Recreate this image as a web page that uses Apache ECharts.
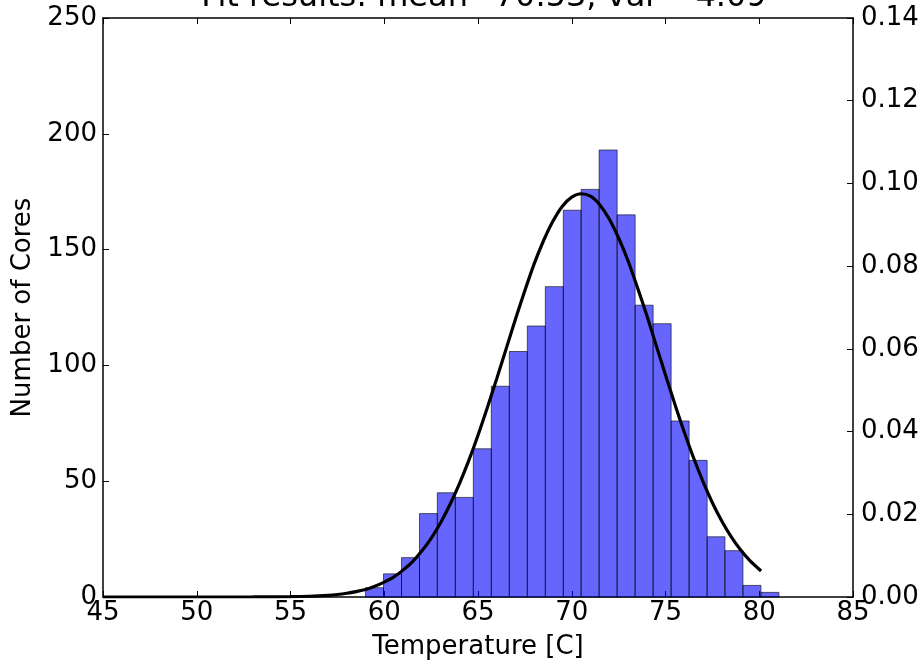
<!DOCTYPE html>
<html>
<head>
<meta charset="utf-8">
<style>
  html, body { margin: 0; padding: 0; background: #fff; }
  #main { width: 923px; height: 665px; }
</style>
<script src="https://cdn.jsdelivr.net/npm/echarts@6/dist/echarts.min.js"></script>
</head>
<body>
<div id="main"></div>
<script>
// histogram bins (edges) and counts
var binEdges = [59.00, 59.96, 60.92, 61.88, 62.83, 63.79, 64.75, 65.71, 66.67, 67.63, 68.59, 69.55,
    70.50, 71.46, 72.42, 73.38, 74.34, 75.30, 76.26, 77.22, 78.17, 79.13, 80.09, 81.05];
var counts = [4, 10, 17, 36, 45, 43, 64, 91, 106, 117, 134, 167, 176, 193, 165, 126, 118, 76, 59, 26, 20, 5, 2];

// fitted curve (right axis)
var fitX = [45, 50, 53, 55, 56, 57, 57.5, 58, 58.5, 59, 59.5, 60, 60.5, 61, 61.5, 62, 62.5, 63, 63.5,
    64, 64.5, 65, 65.5, 66, 66.5, 67, 67.5, 68, 68.5, 69, 69.5, 70, 70.5, 71, 71.5, 72, 72.5,
    73, 73.5, 74, 74.5, 75, 75.5, 76, 76.5, 77, 77.5, 78, 78.5, 79, 79.5, 80.1];
var fitY = [0, 0, 0.00001, 0.00007, 0.00018, 0.0004, 0.0006, 0.0009, 0.0013, 0.0018, 0.0026, 0.0036,
    0.0048, 0.0065, 0.0085, 0.0111, 0.0142, 0.0179, 0.0223, 0.0273, 0.0329, 0.0391, 0.0458,
    0.0528, 0.0600, 0.0672, 0.0741, 0.0806, 0.0862, 0.0909, 0.0945, 0.0967, 0.0975, 0.0969,
    0.0948, 0.0914, 0.0868, 0.0813, 0.0749, 0.0681, 0.0609, 0.0537, 0.0466, 0.0399, 0.0336,
    0.0279, 0.0228, 0.0184, 0.0146, 0.0114, 0.0088, 0.0063];

var xTicks = [45, 50, 55, 60, 65, 70, 75, 80, 85];

var font = 'DejaVu Sans';

var barData = [];
for (let i = 0; i < counts.length; i++) {
    barData.push([binEdges[i], binEdges[i + 1], counts[i]]);
}
var lineData = [];
for (let i = 0; i < fitX.length; i++) {
    lineData.push([fitX[i], fitY[i]]);
}

var myChart = echarts.init(document.getElementById('main'));
var option = {
    animation: false,
    title: {
        text: 'Fit results: mean=70.53, var= 4.09',
        left: 479,
        textAlign: 'center',
        top: -23,
        textStyle: { fontFamily: font, fontSize: 32, fontWeight: 'normal', color: '#000' }
    },
    grid: { left: 103, right: 70, top: 18, bottom: 66 },
    xAxis: [{
        type: 'value',
        min: xTicks[0],
        max: xTicks[xTicks.length - 1],
        interval: 5,
        name: 'Temperature [C]',
        nameLocation: 'middle',
        nameGap: 37,
        nameTextStyle: { fontFamily: font, fontSize: 26, color: '#000' },
        axisLine: { onZero: false, lineStyle: { color: '#000', width: 1.5 } },
        axisTick: { inside: true, length: 6, lineStyle: { color: '#000', width: 1 } },
        axisLabel: { fontFamily: font, fontSize: 26, color: '#000', margin: 3 },
        splitLine: { show: false }
    }, {
        type: 'value',
        position: 'top',
        min: xTicks[0],
        max: xTicks[xTicks.length - 1],
        interval: 5,
        axisLine: { onZero: false, lineStyle: { color: '#000', width: 1.5 } },
        axisTick: { inside: true, length: 6, lineStyle: { color: '#000', width: 1 } },
        axisLabel: { show: false },
        splitLine: { show: false }
    }],
    yAxis: [{
        type: 'value',
        min: 0,
        max: 250,
        interval: 50,
        name: 'Number of Cores',
        nameLocation: 'middle',
        nameGap: 62,
        nameTextStyle: { fontFamily: font, fontSize: 26, color: '#000' },
        axisLine: { show: true, onZero: false, lineStyle: { color: '#000', width: 1.5 } },
        axisTick: { show: true, inside: true, length: 6, lineStyle: { color: '#000', width: 1 } },
        axisLabel: { fontFamily: font, fontSize: 26, color: '#000', margin: 6 },
        splitLine: { show: false }
    }, {
        type: 'value',
        position: 'right',
        min: 0,
        max: 0.14,
        interval: 0.02,
        axisLine: { show: true, onZero: false, lineStyle: { color: '#000', width: 1.5 } },
        axisTick: { show: true, inside: true, length: 6, lineStyle: { color: '#000', width: 1 } },
        axisLabel: {
            fontFamily: font, fontSize: 26, color: '#000', margin: 8,
            formatter: function (v) { return v.toFixed(2); }
        },
        splitLine: { show: false }
    }],
    series: [{
        type: 'custom',
        xAxisIndex: 0,
        yAxisIndex: 0,
        data: barData,
        encode: { x: [0, 1], y: 2 },
        renderItem: function (params, api) {
            var p0 = api.coord([api.value(0), 0]);
            var p1 = api.coord([api.value(1), api.value(2)]);
            return {
                type: 'rect',
                shape: { x: p0[0], y: p1[1], width: p1[0] - p0[0], height: p0[1] - p1[1] },
                style: { fill: 'rgba(0,0,255,0.6)', stroke: 'rgba(0,0,0,0.6)', lineWidth: 1 }
            };
        }
    }, {
        type: 'line',
        xAxisIndex: 0,
        yAxisIndex: 1,
        data: lineData,
        smooth: 0.3,
        showSymbol: false,
        symbol: 'none',
        lineStyle: { color: '#000', width: 3.2 },
        z: 5
    }]
};
option && myChart.setOption(option);
</script>
</body>
</html>
